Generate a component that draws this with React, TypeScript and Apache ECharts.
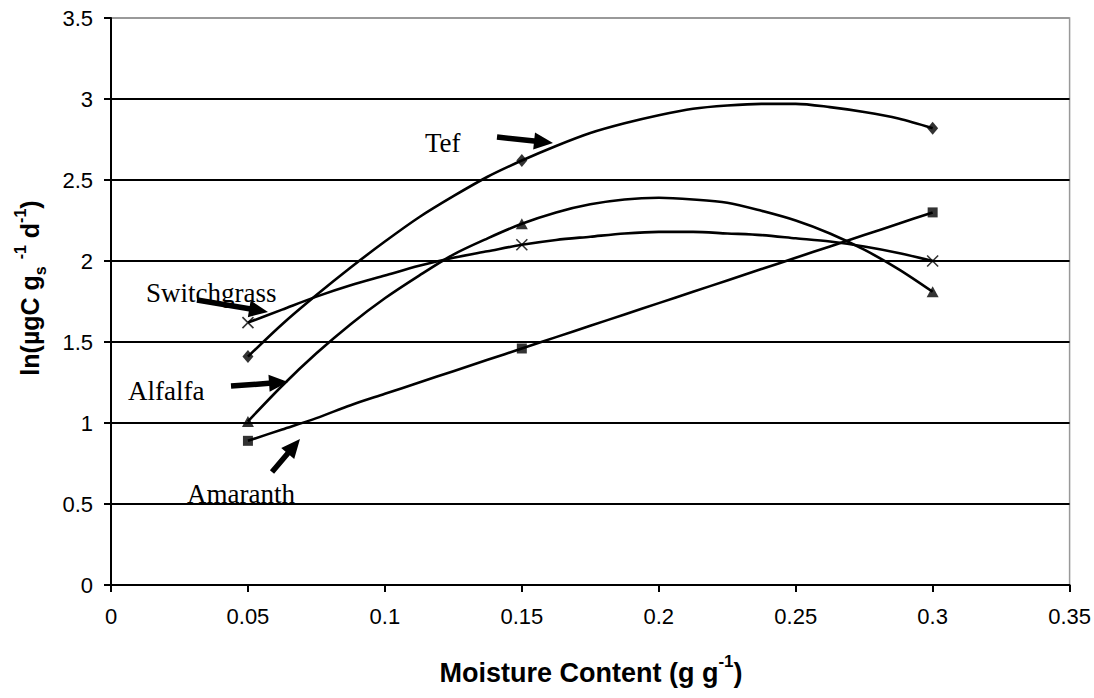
import React, { useEffect, useRef } from "react";
import * as echarts from "echarts";

// Measured points (markers)
const xPoints = [0.05, 0.15, 0.3];
const tefPoints = [1.41, 2.62, 2.82];
const alfalfaPoints = [1.01, 2.23, 1.81];
const switchgrassPoints = [1.62, 2.1, 2.0];
const amaranthPoints = [0.89, 1.46, 2.3];

// Trend curves
const xCurve = [
  0.05, 0.0625, 0.075, 0.0875, 0.1, 0.1125, 0.125, 0.1375, 0.15, 0.1625, 0.175,
  0.1875, 0.2, 0.2125, 0.225, 0.2375, 0.25, 0.2625, 0.275, 0.2875, 0.3,
];
const tefCurve = [
  1.41, 1.61, 1.79, 1.96, 2.12, 2.27, 2.4, 2.52, 2.62, 2.71, 2.79, 2.85, 2.9, 2.94, 2.96, 2.97,
  2.97, 2.95, 2.92, 2.88, 2.82,
];
const alfalfaCurve = [
  1.01, 1.23, 1.43, 1.61, 1.77, 1.91, 2.04, 2.14, 2.23, 2.3, 2.35, 2.38, 2.39, 2.38, 2.36, 2.31,
  2.25, 2.17, 2.07, 1.95, 1.81,
];
const switchgrassCurve = [
  1.62, 1.7, 1.78, 1.85, 1.91, 1.97, 2.02, 2.06, 2.1, 2.13, 2.15, 2.17, 2.18, 2.18, 2.17, 2.16,
  2.14, 2.12, 2.09, 2.05, 2.0,
];
const amaranthCurve = [
  0.89, 0.96, 1.03, 1.11, 1.18, 1.25, 1.32, 1.39, 1.46, 1.53, 1.6, 1.67, 1.74, 1.81, 1.88, 1.95,
  2.02, 2.09, 2.16, 2.23, 2.3,
];

const annotations = ["Tef", "Switchgrass", "Alfalfa", "Amaranth"];

const SANS = "'Liberation Sans', Arial, sans-serif";
const SERIF = "'Liberation Serif', 'Times New Roman', serif";

function pairs(xs: number[], ys: number[]) {
  return xs.map((x, i) => [x, ys[i]]);
}

function arrowPoints(x1: number, y1: number, x2: number, y2: number, shaft = 5.5, headLen = 19, headW = 17) {
  const L = Math.hypot(x2 - x1, y2 - y1);
  const dx = (x2 - x1) / L;
  const dy = (y2 - y1) / L;
  const nx = -dy;
  const ny = dx;
  const bx = x2 - dx * headLen;
  const by = y2 - dy * headLen;
  const s = shaft / 2;
  const h = headW / 2;
  return [
    [x1 + nx * s, y1 + ny * s],
    [bx + nx * s, by + ny * s],
    [bx + nx * h, by + ny * h],
    [x2, y2],
    [bx - nx * h, by - ny * h],
    [bx - nx * s, by - ny * s],
    [x1 - nx * s, y1 - ny * s],
  ];
}

export default function App() {
  const ref = useRef<HTMLDivElement>(null);
  useEffect(() => {
    if (!ref.current) return;
    const chart = echarts.init(ref.current, undefined, { renderer: "svg" });

    const curve = (name: string, ys: number[]) => ({
      name,
      type: "line",
      data: pairs(xCurve, ys),
      smooth: 0.3,
      showSymbol: false,
      symbol: "none",
      lineStyle: { color: "#000", width: 2.6 },
      z: 3,
      silent: true,
    });
    const marks = (name: string, ys: number[], symbol: string, size: any, extra: any = {}) => ({
      name: name + " pts",
      type: "scatter",
      data: pairs(xPoints, ys),
      symbol,
      symbolSize: size,
      itemStyle: { color: "#000", ...extra },
      z: 5,
      silent: true,
    });

    const textStyle = (text: string, x: number, y: number) => ({
      type: "text",
      x,
      y,
      style: {
        text,
        font: `27px ${SERIF}`,
        fill: "#000",
        align: "left",
        verticalAlign: "middle",
        textAlign: "left",
        textVerticalAlign: "middle",
      },
      z: 10,
    });
    const arrow = (x1: number, y1: number, x2: number, y2: number) => ({
      type: "polygon",
      shape: { points: arrowPoints(x1, y1, x2, y2) },
      style: { fill: "#000" },
      z: 10,
    });

    const richX = {
      m: { fontFamily: SANS, fontWeight: "bold", fontSize: 27, lineHeight: 40, color: "#000" },
      sup: { fontFamily: SANS, fontWeight: "bold", fontSize: 17, lineHeight: 17, verticalAlign: "top", color: "#000" },
    };
    const richY = {
      m: { fontFamily: SANS, fontWeight: "bold", fontSize: 25, lineHeight: 36, color: "#000" },
      sup: { fontFamily: SANS, fontWeight: "bold", fontSize: 16, lineHeight: 16, verticalAlign: "top", color: "#000" },
      sub: { fontFamily: SANS, fontWeight: "bold", fontSize: 16, lineHeight: 22, verticalAlign: "bottom", color: "#000" },
    };

    chart.setOption({
      animation: false,
      backgroundColor: "#fff",
      grid: {
        left: 111,
        right: 22,
        top: 18,
        bottom: 113,
        show: true,
        borderColor: "#999",
        borderWidth: 1.5,
        backgroundColor: "transparent",
      },
      xAxis: {
        type: "value",
        min: 0,
        max: 0.35,
        interval: 0.05,
        axisLine: { show: true, lineStyle: { color: "#000", width: 2 } },
        axisTick: { show: true, inside: false, length: 7, lineStyle: { color: "#000", width: 2 } },
        axisLabel: { color: "#000", fontSize: 22, fontFamily: SANS, margin: 20 },
        splitLine: { show: false },
      },
      yAxis: {
        type: "value",
        min: 0,
        max: 3.5,
        interval: 0.5,
        axisLine: { show: true, lineStyle: { color: "#000", width: 2 } },
        axisTick: { show: true, inside: false, length: 7, lineStyle: { color: "#000", width: 2 } },
        axisLabel: { color: "#000", fontSize: 22, fontFamily: SANS, margin: 18 },
        splitLine: {
          show: true,
          lineStyle: { color: ["#000", "#000", "#000", "#000", "#000", "#000", "#000", "#999"], width: 1.8 },
        },
      },
      series: [
        curve("Tef", tefCurve),
        curve("Alfalfa", alfalfaCurve),
        curve("Switchgrass", switchgrassCurve),
        curve("Amaranth", amaranthCurve),
        marks("Tef", tefPoints, "diamond", [11, 13]),
        marks("Alfalfa", alfalfaPoints, "triangle", [12, 11]),
        marks("Switchgrass", switchgrassPoints, "path://M0,0L10,10M10,0L0,10", 11, {
          color: "transparent",
          borderColor: "#000",
          borderWidth: 1.6,
        }),
        marks("Amaranth", amaranthPoints, "rect", 10),
      ],
      graphic: [
        textStyle(annotations[0], 425, 143),
        textStyle(annotations[1], 146, 293),
        textStyle(annotations[2], 128, 391),
        textStyle(annotations[3], 187, 494),
        arrow(497, 137, 553, 143),
        arrow(197, 300, 268, 312),
        arrow(231, 386, 288, 382),
        arrow(272, 472, 300, 439),
        {
          type: "text",
          x: 591,
          y: 673,
          style: {
            text: "{m|Moisture Content (g g}{sup|-1}{m|)}",
            rich: richX,
            align: "center",
            verticalAlign: "middle",
            textAlign: "center",
            textVerticalAlign: "middle",
          },
          z: 10,
        },
        {
          type: "text",
          x: 30,
          y: 288,
          rotation: Math.PI / 2,
          style: {
            text: "{m|ln(µgC g}{sub|s}{m| }{sup|-1}{m| d}{sup|-1}{m|)}",
            rich: richY,
            align: "center",
            verticalAlign: "middle",
            textAlign: "center",
            textVerticalAlign: "middle",
          },
          z: 10,
        },
      ],
    });
    return () => chart.dispose();
  }, []);
  return (
    <div
      ref={ref}
      style={{ position: "fixed", left: 0, top: 0, width: 1094, height: 698, background: "#fff" }}
    />
  );
}
